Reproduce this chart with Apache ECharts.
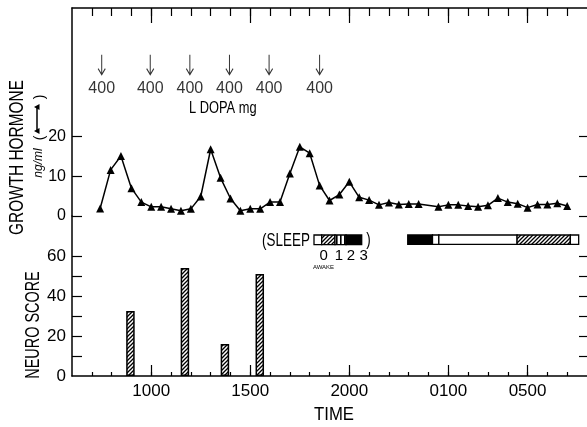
<!DOCTYPE html>
<html><head><meta charset="utf-8">
<script src="https://cdn.jsdelivr.net/npm/echarts@6/dist/echarts.min.js"></script>
<style>html,body{margin:0;padding:0;background:#fff}#c{width:587px;height:427px}</style>
</head><body><div id="c"></div>
<script>
// ---- data ----
const ghTimes = [7.42, 7.95, 8.47, 9.0, 9.5, 10.0, 10.5, 11.0, 11.5, 12.0, 12.5, 13.0, 13.5, 14.0, 14.5, 15.0, 15.5, 16.0, 16.5, 17.0, 17.5, 18.0, 18.5, 19.0, 19.5, 20.0, 20.5, 21.0, 21.5, 22.0, 22.5, 23.0, 23.5, 24.5, 25.0, 25.5, 26.0, 26.5, 27.0, 27.5, 28.0, 28.5, 29.0, 29.5, 30.0, 30.5, 31.0];
const ghValues = [1.9, 11.6, 15.1, 7.0, 3.5, 2.3, 2.3, 1.8, 1.3, 1.8, 4.9, 16.8, 9.6, 4.4, 1.3, 1.8, 1.8, 3.5, 3.5, 10.7, 17.4, 15.8, 7.7, 3.9, 5.4, 8.6, 4.7, 4.0, 2.8, 3.4, 2.9, 3.0, 3.0, 2.3, 2.8, 2.8, 2.5, 2.3, 2.7, 4.5, 3.5, 3.1, 2.1, 2.9, 2.9, 3.2, 2.5];
const doseTimes = [7.5, 9.95, 11.95, 13.95, 15.95, 18.5];
const doseMg = [400, 400, 400, 400, 400, 400];
const neuroTimes = [8.95, 11.7, 13.72, 15.48];
const neuroScores = [32.5, 54, 16, 51];
const sleepStart = [22.95, 24.2, 24.52, 28.47, 31.16];
const sleepEnd = [24.2, 24.52, 28.47, 31.16, 31.58];
const sleepStage = [3, 0, 0, 1, 0];
const hourTicks = [7,8,9,10,11,12,13,14,15,16,17,18,19,20,21,22,23,24,25,26,27,28,29,30,31];
const timeTickHours = [10, 15, 20, 25, 29];
const timeTickLabels = ['1000', '1500', '2000', '0100', '0500'];
const ghTicks = [0, 10, 20];
const neuroTicks = [10, 20, 30, 40, 50, 60];
const neuroLabels = [0, 20, 40, 60];

// ---- patterns ----
function makePattern(kind) {
  const s = 4;
  const c = document.createElement('canvas');
  c.width = s; c.height = s;
  const g = c.getContext('2d');
  g.fillStyle = '#fff'; g.fillRect(0, 0, s, s);
  g.strokeStyle = '#000'; g.fillStyle = '#000';
  if (kind === 'diag') {
    g.lineWidth = 1.3;
    g.beginPath();
    g.moveTo(-1, s + 1); g.lineTo(s + 1, -1);
    g.moveTo(-1, 1); g.lineTo(1, -1);
    g.moveTo(s - 1, s + 1); g.lineTo(s + 1, s - 1);
    g.stroke();
  } else if (kind === 'vert') {
    g.fillRect(0, 0, 1.6, s);
  }
  return { image: c, repeat: 'repeat' };
}
const diag = makePattern('diag');
const vert = makePattern('vert');
const stageFill = ['#fff', diag, vert, '#000'];

const NUM = '"Liberation Sans", Arial, sans-serif';
const TICKLINE = { color: '#000', width: 1.2 };
const LINE_ON = { show: true, onZero: false, lineStyle: { color: '#000', width: 1.5 } };
const LINE_OFF = { show: false, onZero: false };

const chart = echarts.init(document.getElementById('c'), null, { renderer: 'canvas' });

function g(o) { return Object.assign({ outerBoundsMode: 'none', containLabel: false }, o); }
function hx(grid) { return { gridIndex: grid, type: 'value', min: 6, max: 32, show: false, axisLine: LINE_OFF }; }
function hy(grid, max) { return { gridIndex: grid, type: 'value', min: 0, max: max, show: false, axisLine: LINE_OFF }; }
function txt(x, y, text, size, opts) {
  opts = opts || {};
  return { type: 'text', x: x, y: y, rotation: opts.rot || 0, scaleX: opts.sx || 1, scaleY: 1,
    style: { text: text, font: (opts.italic ? 'italic ' : '') + size + 'px ' + NUM, fill: '#000',
      align: 'center', verticalAlign: 'middle', textAlign: 'center', textVerticalAlign: 'middle' } };
}

chart.setOption({
  animation: false,
  backgroundColor: '#fff',
  grid: [
    g({ left: 72, right: 0, top: 8, height: 208 }),     // 0 growth hormone
    g({ left: 72, right: 0, top: 216, height: 160 }),   // 1 neuro score
    g({ left: 72, right: 0, top: -92, height: 100 }),   // 2 top frame short ticks
    g({ left: 72, right: 0, top: -92, height: 100 }),   // 3 top frame long ticks
    g({ left: 72, right: 0, top: 376, height: 50 }),    // 4 bottom short ticks
    g({ left: 72, right: 0, top: 376, height: 50 }),    // 5 bottom long ticks
    g({ left: 0, width: 72, top: 8, height: 208 }),     // 6 left GH ticks
    g({ left: 0, width: 72, top: 216, height: 160 }),   // 7 left neuro ticks
    g({ left: 587, width: 60, top: 8, height: 208 }),   // 8 right GH ticks
    g({ left: 587, width: 60, top: 216, height: 160 })  // 9 right neuro ticks
  ],
  xAxis: [
    hx(0),
    { gridIndex: 1, type: 'value', min: 6, max: 32, position: 'bottom', splitLine: { show: false },
      axisLine: LINE_ON, axisTick: { show: false },
      axisLabel: { show: true, customValues: timeTickHours, margin: 7, color: '#000', fontSize: 17, fontFamily: NUM,
        formatter: v => timeTickLabels[timeTickHours.indexOf(v)] || '' } },
    { gridIndex: 2, type: 'value', min: 6, max: 32, position: 'bottom', splitLine: { show: false },
      axisLine: LINE_ON,
      axisTick: { show: true, length: 8, customValues: hourTicks, lineStyle: TICKLINE }, axisLabel: { show: false } },
    { gridIndex: 3, type: 'value', min: 6, max: 32, position: 'bottom', splitLine: { show: false },
      axisLine: LINE_OFF,
      axisTick: { show: true, length: 15, customValues: timeTickHours, lineStyle: TICKLINE }, axisLabel: { show: false } },
    { gridIndex: 4, type: 'value', min: 6, max: 32, position: 'top', splitLine: { show: false },
      axisLine: LINE_OFF,
      axisTick: { show: true, length: 4, customValues: hourTicks, lineStyle: TICKLINE }, axisLabel: { show: false } },
    { gridIndex: 5, type: 'value', min: 6, max: 32, position: 'top', splitLine: { show: false },
      axisLine: LINE_OFF,
      axisTick: { show: true, length: 11, customValues: timeTickHours, lineStyle: TICKLINE }, axisLabel: { show: false } },
    hx(6), hx(7), hx(8), hx(9)
  ],
  yAxis: [
    { gridIndex: 0, type: 'value', min: 0, max: 52.33, position: 'left', splitLine: { show: false },
      axisLine: LINE_ON, axisTick: { show: false },
      axisLabel: { show: true, customValues: ghTicks, margin: 6, color: '#000', fontSize: 16, fontFamily: NUM } },
    { gridIndex: 1, type: 'value', min: 0, max: 80, position: 'left', splitLine: { show: false },
      axisLine: LINE_ON, axisTick: { show: false },
      axisLabel: { show: true, customValues: neuroLabels, margin: 6, color: '#000', fontSize: 17, fontFamily: NUM } },
    hy(2, 1), hy(3, 1), hy(4, 1), hy(5, 1),
    { gridIndex: 6, type: 'value', min: 0, max: 52.33, position: 'right', splitLine: { show: false },
      axisLine: LINE_OFF, axisLabel: { show: false },
      axisTick: { show: true, length: 10, customValues: ghTicks, lineStyle: TICKLINE } },
    { gridIndex: 7, type: 'value', min: 0, max: 80, position: 'right', splitLine: { show: false },
      axisLine: LINE_OFF, axisLabel: { show: false },
      axisTick: { show: true, length: 10, customValues: neuroTicks, lineStyle: TICKLINE } },
    { gridIndex: 8, type: 'value', min: 0, max: 52.33, position: 'left', splitLine: { show: false },
      axisLine: LINE_OFF, axisLabel: { show: false },
      axisTick: { show: true, length: 8, customValues: ghTicks, lineStyle: TICKLINE } },
    { gridIndex: 9, type: 'value', min: 0, max: 80, position: 'left', splitLine: { show: false },
      axisLine: LINE_OFF, axisLabel: { show: false },
      axisTick: { show: true, length: 8, customValues: neuroTicks, lineStyle: TICKLINE } }
  ],
  series: [
    { type: 'line', xAxisIndex: 0, yAxisIndex: 0,
      data: ghTimes.map((t, i) => [t, ghValues[i]]),
      symbol: 'triangle', symbolSize: 8,
      lineStyle: { color: '#000', width: 1.5 }, itemStyle: { color: '#000' } },
    { type: 'scatter', xAxisIndex: 0, yAxisIndex: 0,
      data: doseTimes.map((t, i) => [t, 37.9, doseMg[i]]),
      symbol: 'path://M4.4,0 L5.6,0 L5.6,18 L8.8,13.5 L9.8,14.2 L5,21 L0.2,14.2 L1.2,13.5 L4.4,18 Z',
      symbolSize: [8, 21], itemStyle: { color: '#000' },
      label: { show: true, position: 'bottom', distance: 5, color: '#000', fontSize: 16, lineHeight: 16, fontFamily: NUM,
        formatter: p => String(p.value[2]) } },
    { type: 'bar', xAxisIndex: 1, yAxisIndex: 1,
      data: neuroTimes.map((t, i) => [t, neuroScores[i]]),
      barWidth: 8.5,
      itemStyle: { color: diag, borderColor: '#000', borderWidth: 1.5 } },
    { type: 'custom', xAxisIndex: 1, yAxisIndex: 1, clip: false, silent: true,
      data: sleepStart.map((s, i) => [s, sleepEnd[i], sleepStage[i]]),
      encode: { x: [0, 1] },
      renderItem: (params, api) => {
        const p0 = api.coord([api.value(0), 70.5]);
        const p1 = api.coord([api.value(1), 65.8]);
        return { type: 'rect', shape: { x: p0[0], y: p0[1], width: p1[0] - p0[0], height: p1[1] - p0[1] },
          style: { fill: stageFill[api.value(2)], stroke: '#000', lineWidth: 1.3 } };
      } }
  ],
  graphic: [
    txt(17.5, 157.5, 'GROWTH HORMONE', 19.5, { rot: Math.PI / 2, sx: 0.79 }),
    txt(34, 325, 'NEURO SCORE', 19.5, { rot: Math.PI / 2, sx: 0.74 }),
    txt(39, 163, 'ng/ml', 12, { rot: Math.PI / 2, italic: true }),
    txt(40, 138, '(', 14, { rot: Math.PI / 2 }),
    txt(40, 97, ')', 14, { rot: Math.PI / 2 }),
    { type: 'line', shape: { x1: 37, y1: 107, x2: 37, y2: 131 }, style: { stroke: '#000', lineWidth: 1.5 } },
    { type: 'polygon', shape: { points: [[34, 107], [39.5, 104], [39.5, 110]] }, style: { fill: '#000' } },
    { type: 'polygon', shape: { points: [[34, 131], [39.5, 128], [39.5, 134]] }, style: { fill: '#000' } },
    txt(222.8, 109, 'L DOPA mg', 16.3, { sx: 0.79 }),
    txt(334, 415, 'TIME', 19, { sx: 0.88 }),
    txt(286, 241, '(SLEEP', 17.7, { sx: 0.76 }),
    txt(368.5, 240.5, ')', 17.7, { sx: 0.76 }),
    { type: 'rect', shape: { x: 314, y: 235, width: 7.7, height: 9.7 }, style: { fill: '#fff', stroke: '#000', lineWidth: 1.3 } },
    { type: 'rect', shape: { x: 321.7, y: 235, width: 13.3, height: 9.7 }, style: { fill: diag, stroke: '#000', lineWidth: 1.3 } },
    { type: 'rect', shape: { x: 335, y: 235, width: 11, height: 9.7 }, style: { fill: vert, stroke: '#000', lineWidth: 1.3 } },
    { type: 'rect', shape: { x: 346, y: 235, width: 15.7, height: 9.7 }, style: { fill: '#000', stroke: '#000', lineWidth: 1.3 } },
    txt(323.7, 256, '0', 15), txt(339, 256, '1', 15), txt(351, 256, '2', 15), txt(363.7, 256, '3', 15),
    txt(323.5, 267.5, 'AWAKE', 6)
  ]
});
</script>
</body></html>
